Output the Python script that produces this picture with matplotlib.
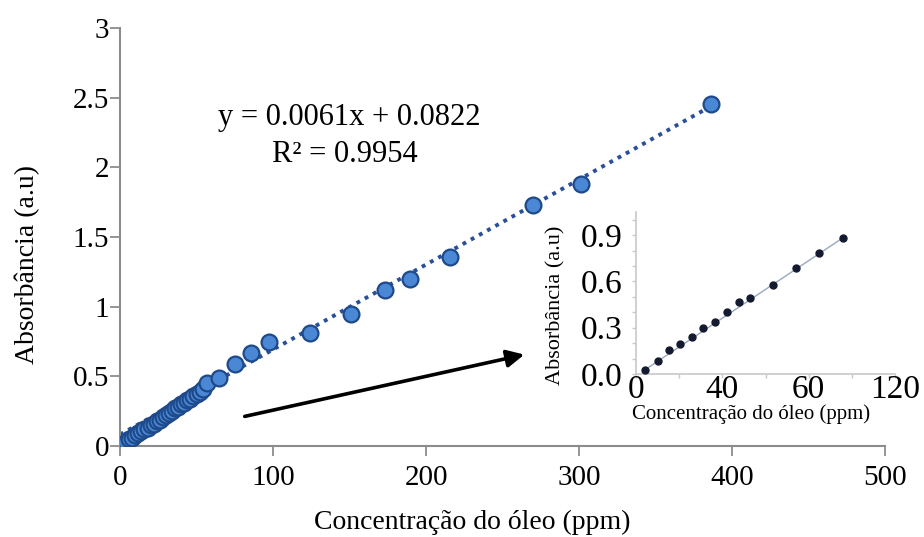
import matplotlib
matplotlib.use("Agg")
import matplotlib.pyplot as plt
import numpy as np

plt.rcParams['font.family'] = ['Liberation Serif', 'DejaVu Serif']

# Main calibration data (ppm, absorbance)
conc = [2, 4, 6, 8, 10, 12, 14, 16, 18, 20, 22, 24, 26, 28, 30, 32, 34, 36,
        38, 40, 42, 44, 46, 48, 50, 52, 54, 57, 64.5, 75, 85.5, 97.4, 124,
        150.7, 173, 189.5, 216, 270, 301, 386]
absb = [0.01, 0.03, 0.05, 0.06, 0.08, 0.09, 0.11, 0.12, 0.13, 0.15, 0.16, 0.18,
        0.19, 0.21, 0.22, 0.24, 0.25, 0.27, 0.28, 0.30, 0.31, 0.33, 0.34, 0.36,
        0.37, 0.39, 0.41, 0.45, 0.49, 0.59, 0.67, 0.745, 0.81, 0.95, 1.12,
        1.20, 1.36, 1.73, 1.88, 2.455]

slope = 0.0061
intercept = 0.0822
fit_range = [0, 392]

# Inset data
in_conc = [4.2, 10, 15.4, 20.5, 26, 31, 36.5, 42.3, 47.7, 52.6, 63.5, 74.3, 85, 95.7]
in_abs = [0.028, 0.086, 0.158, 0.194, 0.238, 0.296, 0.339, 0.40, 0.464, 0.495,
          0.579, 0.685, 0.784, 0.881]
in_xticks = [0, 40, 80, 120]
in_xticklabels = ['0', '40', '60', '120']
in_yticks = [0.0, 0.3, 0.6, 0.9]

W, H = 924, 537
fig = plt.figure(figsize=(W / 100, H / 100), dpi=100)

gray = '#8c8c8c'
ax = fig.add_axes([120 / W, 1 - 446 / H, (885 - 120) / W, (446 - 28) / H])
xf = np.array(fit_range)
ax.plot(xf, slope * xf + intercept, linestyle=(0, (1, 1.4)), color='#2a4f9a', lw=2.8, zorder=2)
ax.scatter(conc, absb, s=130, color='#4a88d6', edgecolor='#1f4a8a', linewidth=1.6, zorder=3)
ax.set_xlim(0, 500)
ax.set_ylim(0, 3)
ax.set_xticks([0, 100, 200, 300, 400, 500])
ax.set_yticks([0, 0.5, 1, 1.5, 2, 2.5, 3])
ax.set_yticklabels(['0', '0.5', '1', '1.5', '2', '2.5', '3'])
for s in ['top', 'right']:
    ax.spines[s].set_visible(False)
for s in ['left', 'bottom']:
    ax.spines[s].set_color(gray)
    ax.spines[s].set_linewidth(1.5)
ax.tick_params(axis='both', colors=gray, length=7, width=1.3, labelsize=21,
               labelcolor='black', direction='out')
ax.tick_params(axis='x', pad=7)
ax.tick_params(axis='y', pad=1)
ax.set_xlabel('Concentração do óleo (ppm)', fontsize=20)
ax.set_ylabel('Absorbância (a.u)', fontsize=20)
ax.xaxis.set_label_coords((472 - 120) / 765, -(510 - 446) / 418)
ax.yaxis.set_label_coords(-(120 - 40) / 765, (446 - 265) / 418)

fig.text(349 / W, 1 - 118 / H, 'y = 0.0061x + 0.0822', fontsize=22, ha='center', va='center')
fig.text(345 / W, 1 - 155 / H, 'R² = 0.9954', fontsize=22, ha='center', va='center')

ax.annotate('', xy=(527 / W, 1 - 354 / H), xytext=(242 / W, 1 - 417 / H),
            xycoords='figure fraction', textcoords='figure fraction',
            arrowprops=dict(arrowstyle='-|>', color='black', lw=2.6, mutation_scale=26))

# Inset
ia = fig.add_axes([636 / W, 1 - 374 / H, (895 - 636) / W, (374 - 212) / H])
ia.plot([in_conc[0], in_conc[-1]], [in_abs[0], in_abs[-1]], color='#9aa7c0', lw=1.0, zorder=2)
ia.plot(in_conc, in_abs, 'o', color='#141a30', markersize=5, zorder=3)
ia.set_xlim(0, 120)
ia.set_ylim(0, 1.05)
ia.set_xticks(in_xticks)
ia.set_xticklabels(in_xticklabels)
ia.set_yticks(in_yticks)
ia.set_yticklabels(['0.0', '0.3', '0.6', '0.9'])
ia.set_xticks([20, 60, 100], minor=True)
ia.set_yticks([0.1, 0.2, 0.4, 0.5, 0.7, 0.8, 1.0], minor=True)
for s in ['top', 'right']:
    ia.spines[s].set_visible(False)
for s in ['left', 'bottom']:
    ia.spines[s].set_color('#c8c8c8')
    ia.spines[s].set_linewidth(1.2)
ia.patch.set_alpha(0)
ia.tick_params(axis='both', which='both', colors='#c8c8c8', length=3, width=1,
               labelcolor='black', direction='out', labelsize=24)
ia.tick_params(axis='x', pad=-3)
ia.tick_params(axis='y', pad=7)
ia.set_xlabel('Concentração do óleo (ppm)', fontsize=15)
ia.set_ylabel('Absorbância (a.u)', fontsize=16)
ia.xaxis.set_label_coords((751 - 636) / 259, -(404 - 374) / 162)
ia.yaxis.set_label_coords(-(636 - 565) / 259, (374 - 305) / 162)

fig.savefig('out.png', dpi=100)
